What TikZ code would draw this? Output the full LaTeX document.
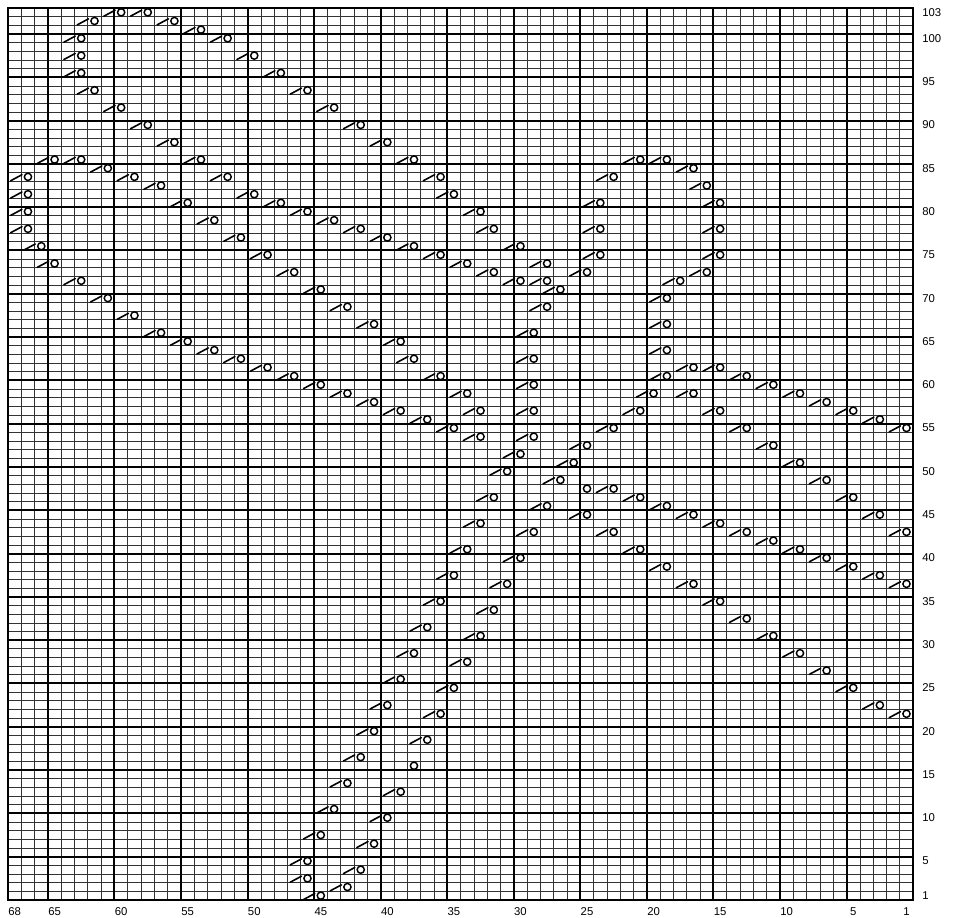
\documentclass[tikz,border=0pt]{standalone}
\usepackage{fontspec}
\setsansfont{Liberation Sans}
\usepackage{tikz}

\begin{document}
\begin{tikzpicture}[
  x=9.983pt, y=6.495pt,
  gridline/.style={draw=black!80, line width=0.55pt},
  blockline/.style={draw=black, line width=1.5pt},
  yoslash/.style={draw=black, line width=1.2pt, line cap=round},
  yoring/.style={draw=black, line width=1.1pt},
  rowlabel/.style={anchor=west, inner sep=0pt, font=\sffamily\fontsize{8.5}{9}\selectfont},
  collabel/.style={anchor=base, inner sep=0pt, font=\sffamily\fontsize{8.5}{9}\selectfont}
]
  \useasboundingbox (-0.601,-1.963) rectangle (71.22,103.924);

  % fine grid
  \foreach \i in {0,...,68}
    \draw[gridline] (\i,0) -- (\i,103);
  \foreach \j in {0,...,103}
    \draw[gridline] (0,\j) -- (68,\j);

  % every fifth stitch and row
  \foreach \i in {3,8,...,63}
    \draw[blockline] (\i,0) -- (\i,103);
  \foreach \j in {5,10,...,100}
    \draw[blockline] (0,\j) -- (68,\j);
  \draw[blockline] (0,0) rectangle (68,103);

  % yarn over + decrease, given as stitch/row of the o
  \foreach \c/\r in {60/103,58/103,62/102,56/102,54/101,63/100,52/100,
      63/98,50/98,63/96,48/96,62/94,46/94,60/92,44/92,58/90,42/90,56/88,40/88,
      65/86,63/86,54/86,38/86,21/86,19/86,61/85,17/85,
      67/84,59/84,52/84,36/84,23/84,57/83,16/83,67/82,50/82,35/82,
      55/81,48/81,24/81,15/81,67/80,46/80,33/80,53/79,44/79,
      67/78,42/78,32/78,24/78,15/78,51/77,40/77,66/76,38/76,30/76,
      49/75,36/75,24/75,15/75,65/74,34/74,28/74,47/73,32/73,25/73,16/73,
      63/72,30/72,28/72,18/72,45/71,27/71,61/70,19/70,43/69,28/69,59/68,
      41/67,19/67,57/66,29/66,55/65,39/65,53/64,19/64,51/63,38/63,29/63,
      49/62,17/62,15/62,47/61,36/61,19/61,13/61,45/60,29/60,11/60,
      43/59,34/59,20/59,17/59,9/59,41/58,7/58,
      39/57,33/57,29/57,21/57,15/57,5/57,37/56,3/56,35/55,23/55,13/55,1/55,
      33/54,29/54,25/53,11/53,30/52,26/51,9/51,31/50,27/49,7/49,23/48,
      32/47,21/47,5/47,28/46,19/46,25/45,17/45,3/45,33/44,15/44,
      29/43,23/43,13/43,1/43,11/42,34/41,21/41,9/41,30/40,7/40,19/39,5/39,
      35/38,3/38,31/37,17/37,1/37,36/35,15/35,32/34,13/33,37/32,33/31,11/31,
      38/29,9/29,34/28,7/27,39/26,35/25,5/25,40/23,3/23,36/22,1/22,
      41/20,37/19,42/17,43/14,39/13,44/11,40/10,45/8,41/7,46/5,42/4,
      46/3,43/2,45/1} {
    \draw[yoslash] ({67.2-\c},{\r-0.95}) -- ({68.05-\c},{\r-0.25});
    \draw[yoring] ({68.5-\c},{\r-0.5}) circle[radius=2.7pt];
  }
  % single yarn overs
  \foreach \c/\r in {38/16,25/48}
    \draw[yoring] ({68.5-\c},{\r-0.5}) circle[radius=2.7pt];

  % row numbers
  \foreach \r in {103,100,95,...,5,1}
    \node[rowlabel] (row\r) at (68.67,\r-0.5) {\r};
  % stitch numbers
  \foreach \c in {68,65,60,...,5,1}
    \node[collabel] (st\c) at ({68.5-\c},-1.8) {\c};
\end{tikzpicture}
\end{document}
